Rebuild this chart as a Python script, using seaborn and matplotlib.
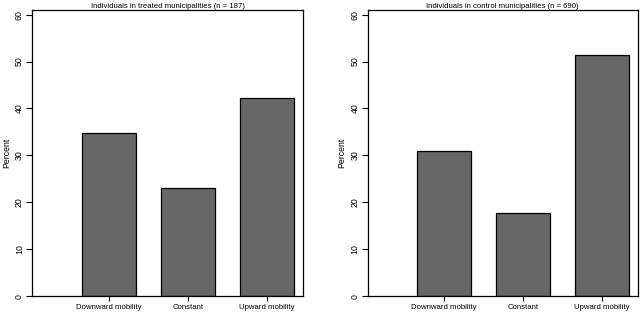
import matplotlib
matplotlib.use("Agg")
import matplotlib.pyplot as plt
import seaborn as sns
import pandas as pd

# data (percent of individuals)
categories = ["Downward mobility", "Constant", "Upward mobility"]
treated_pct = [34.8, 23.0, 42.2]
control_pct = [30.9, 17.7, 51.4]
titles = ["Individuals in treated municipalities (n = 187)",
          "Individuals in control municipalities (n = 690)"]

sns.set_style("white")
plt.rcParams["font.family"] = ["Liberation Sans", "DejaVu Sans"]
plt.rcParams["text.color"] = "black"
plt.rcParams["axes.labelcolor"] = "black"
plt.rcParams["xtick.color"] = "black"
plt.rcParams["ytick.color"] = "black"

fig = plt.figure(figsize=(6.4, 3.12), dpi=100)
ax1 = fig.add_axes([0.0505, 0.051, 0.4225, 0.917])
ax2 = fig.add_axes([0.5745, 0.051, 0.4220, 0.917])

for ax, vals, title in zip([ax1, ax2], [treated_pct, control_pct], titles):
    df = pd.DataFrame({"cat": categories, "pct": vals})
    sns.barplot(data=df, x="cat", y="pct", ax=ax, color="#666666",
                saturation=1, width=0.68, edgecolor="black", linewidth=0.9)
    ax.set_xlim(-0.963, 2.45)
    ax.set_ylim(0, 61)
    ax.set_yticks([0, 10, 20, 30, 40, 50, 60])
    ax.set_xlabel("")
    ax.set_ylabel("Percent", fontsize=6.3, labelpad=3)
    ax.set_title(title, fontsize=5.6, pad=1.5)
    ax.tick_params(axis="y", labelsize=6.3, length=4, width=0.8, rotation=90, pad=2,
                   left=True, direction="out")
    ax.tick_params(axis="x", labelsize=5.6, length=3.5, width=0.8, pad=2,
                   bottom=True, direction="out")
    for lab in ax.get_yticklabels():
        lab.set_va("center")
    for s in ax.spines.values():
        s.set_visible(True)
        s.set_color("black")
        s.set_linewidth(0.9)

fig.savefig("out.png", dpi=100)
